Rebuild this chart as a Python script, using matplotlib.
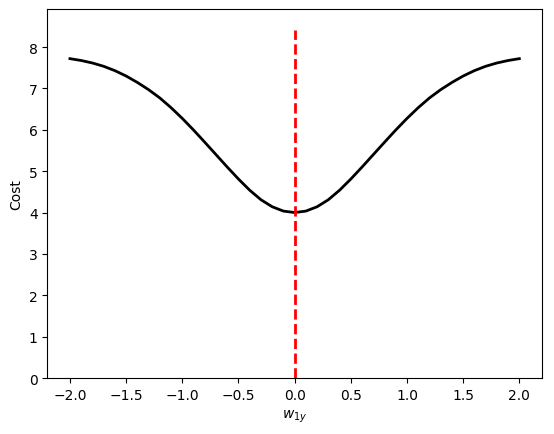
import matplotlib
matplotlib.use("Agg")
import matplotlib.pyplot as plt

w1y = [-2.0, -1.9, -1.8, -1.7, -1.6, -1.5, -1.4, -1.3, -1.2, -1.1, -1.0,
       -0.9, -0.8, -0.7, -0.6, -0.5, -0.4, -0.3, -0.2, -0.1, 0.0,
       0.1, 0.2, 0.3, 0.4, 0.5, 0.6, 0.7, 0.8, 0.9, 1.0,
       1.1, 1.2, 1.3, 1.4, 1.5, 1.6, 1.7, 1.8, 1.9, 2.0]
cost = [7.720, 7.675, 7.615, 7.535, 7.430, 7.300, 7.145, 6.970, 6.770, 6.535, 6.275,
        5.995, 5.700, 5.400, 5.100, 4.810, 4.540, 4.310, 4.140, 4.035, 4.000,
        4.035, 4.140, 4.310, 4.540, 4.810, 5.100, 5.400, 5.700, 5.995, 6.275,
        6.535, 6.770, 6.970, 7.145, 7.300, 7.430, 7.535, 7.615, 7.675, 7.720]
vline_x = 0.0
vline_top = 8.41

fig = plt.figure(figsize=(5.54, 4.35), dpi=100)
ax = fig.add_axes([0.0857, 0.1287, 0.978 - 0.0857, 0.977 - 0.1287])
ax.plot(w1y, cost, color="black", linewidth=2, solid_joinstyle="round")
ax.vlines(vline_x, 0, vline_top, colors="red", linestyles="dashed", linewidth=2)
ax.set_xlim(-2.2, 2.2)
ax.set_ylim(0, 8.92)
ax.set_xlabel(r"$w_{1y}$")
ax.set_ylabel("Cost")
fig.savefig("out.png", dpi=100)
